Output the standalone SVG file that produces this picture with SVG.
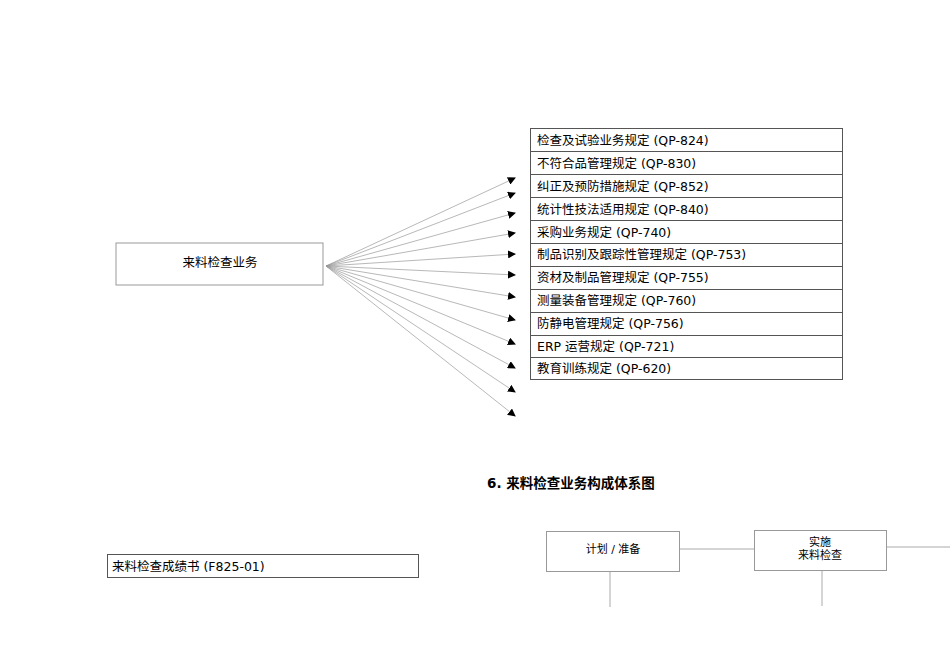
<svg xmlns="http://www.w3.org/2000/svg" width="950" height="672" viewBox="0 0 950 672">
<style>
text{font-family:"DejaVu Sans","Noto Sans CJK SC",sans-serif;font-size:12.5px;fill:#000}
.t{font-size:12.5px}
.b{fill:#fff;stroke:#555;stroke-width:1}
.g{fill:#fff;stroke:#999;stroke-width:1}
.c{stroke:#999;stroke-width:0.7;fill:none;marker-end:url(#a)}
.l{stroke:#aaa;stroke-width:1;fill:none}
</style>
<defs><marker id="a" markerWidth="8" markerHeight="8" refX="7" refY="4" orient="auto" markerUnits="userSpaceOnUse"><path d="M0,0L8,4L0,8z" fill="#000"/></marker></defs>
<rect width="950" height="672" fill="#fff"/>
<g id="src"><rect class="g" x="116" y="243" width="207" height="42"/><text x="220" y="267" text-anchor="middle">来料检查业务</text></g>
<g id="table">
<rect class="b" x="530.5" y="128.5" width="312" height="251"/>
<g stroke="#555"><line x1="530" y1="151.5" x2="842" y2="151.5"/><line x1="530" y1="174.5" x2="842" y2="174.5"/><line x1="530" y1="197.5" x2="842" y2="197.5"/><line x1="530" y1="220.5" x2="842" y2="220.5"/><line x1="530" y1="243.5" x2="842" y2="243.5"/><line x1="530" y1="266.5" x2="842" y2="266.5"/><line x1="530" y1="289.5" x2="842" y2="289.5"/><line x1="530" y1="312.5" x2="842" y2="312.5"/><line x1="530" y1="335.5" x2="842" y2="335.5"/><line x1="530" y1="357.5" x2="842" y2="357.5"/></g>
<text x="537" y="145">检查及试验业务规定 (QP-824)</text>
<text x="537" y="168">不符合品管理规定 (QP-830)</text>
<text x="537" y="191">纠正及预防措施规定 (QP-852)</text>
<text x="537" y="214">统计性技法适用规定 (QP-840)</text>
<text x="537" y="237">采购业务规定 (QP-740)</text>
<text x="537" y="259">制品识别及跟踪性管理规定 (QP-753)</text>
<text x="537" y="282">资材及制品管理规定 (QP-755)</text>
<text x="537" y="305">测量装备管理规定 (QP-760)</text>
<text x="537" y="328">防静电管理规定 (QP-756)</text>
<text x="537" y="351">ERP 运营规定 (QP-721)</text>
<text x="537" y="373">教育训练规定 (QP-620)</text>
</g>
<g id="connectors">
<path class="c" d="M326,266L515,178"/><path class="c" d="M326,266L515,193"/><path class="c" d="M326,266L515,213"/><path class="c" d="M326,266L515,233"/><path class="c" d="M326,266L515,254"/><path class="c" d="M326,266L515,275"/><path class="c" d="M326,266L515,297"/><path class="c" d="M326,266L515,320"/><path class="c" d="M326,266L515,344"/><path class="c" d="M326,266L515,368"/><path class="c" d="M326,266L515,392"/><path class="c" d="M326,266L515,416"/>
<line class="l" x1="680" y1="549" x2="754" y2="549"/><line class="l" x1="887" y1="547" x2="950" y2="547"/>
<line class="l" x1="610" y1="571" x2="610" y2="607"/><line class="l" x1="822" y1="570" x2="822" y2="606"/>
</g>
<text x="487" y="488" style="font-weight:bold;font-size:13.5px">6. 来料检查业务构成体系图</text>
<g id="form"><rect class="b" x="107.5" y="554.5" width="311" height="23"/><text x="112" y="571">来料检查成绩书 (F825-01)</text></g>
<g id="plan"><rect class="g" x="546.5" y="531.5" width="133" height="40"/><text x="613" y="553" text-anchor="middle" style="font-size:11px">计划 / 准备</text></g>
<g id="exec"><rect class="g" x="754.5" y="530.5" width="132" height="40"/><text x="820" y="546" text-anchor="middle" style="font-size:11px">实施</text><text x="820" y="559" text-anchor="middle" style="font-size:11px">来料检查</text></g>
</svg>
